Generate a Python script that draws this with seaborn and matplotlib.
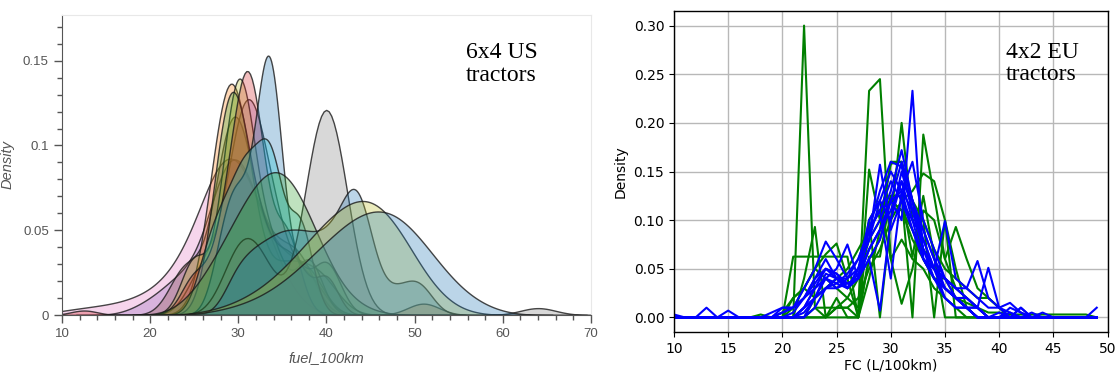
import numpy as np
import pandas as pd
import matplotlib.pyplot as plt
import seaborn as sns

# LEFT PANEL: 6x4 US tractors, fuel samples per truck (value, count)
us_fuel = [
    [11, 14.5, 18, 21, 24, 27, 29, 31, 33, 35],           # pink wide left tail
    [20, 23.5, 27.5, 29.5, 31.5, 35, 39],                  # purple
    [24, 28, 29.55, 31.1, 34, 37],                         # brown
    [26, 29.3, 30.9, 32.5, 34.5, 38],                      # purple/brown
    [27.5, 29.2, 31, 35, 38, 51],                          # orange (wheat)
    [25, 28.7, 30.1, 31.5, 34, 38],                        # olive
    [27.8, 29.3, 30.8, 33, 36, 40],                        # green
    [12.5, 25, 28, 29.7, 31.1, 32.4, 35.5],                # red
    [28, 29.5, 31, 32.5, 33.5, 34.5, 37, 40],              # tall blue
    [26.5, 28.5, 30.5, 32, 33.8, 37],                      # cyan
    [30, 32.5, 38.5, 40, 41.5, 64],                        # gray
    [26, 29, 32, 35, 38, 41, 44],                          # wide green
    [30, 32.5, 35, 37.5, 40, 41.5, 43.3, 45, 48, 50.5],    # blue 43
    [27, 30, 33, 36, 39, 42, 45, 48, 51, 54],              # olive 45
    [28, 31, 34, 37, 40, 43, 46, 49, 52, 55, 58],          # light blue 46
]
us_counts = [
    [10, 16, 24, 38, 90, 175, 200, 160, 80, 37],
    [3, 9, 18, 25, 18, 13, 12],
    [12, 16, 30, 16, 13, 13],
    [10, 15, 28, 17, 12, 8],
    [20, 36, 20, 10, 10, 3],
    [12, 17, 30, 17, 12, 12],
    [17, 30, 17, 12, 12, 12],
    [1, 8, 10, 17, 30, 17, 17],
    [8, 14, 10, 12, 30, 12, 7, 7],
    [10, 14, 18, 13, 26, 18],
    [15, 12, 20, 30, 19, 2],
    [6, 15, 25, 30, 19, 5, 1],
    [8, 10, 12, 12, 10, 6, 20, 6, 4, 6],
    [3, 10, 22, 42, 68, 90, 100, 76, 31, 6],
    [4, 10, 22, 41, 66, 88, 100, 88, 54, 23, 7],
]
us_bw = [2.5, 2.2, 1.8, 1.8, 1.8, 1.5, 1.6, 1.5, 1.3, 1.4, 2.0, 2.5, 1.6, 2.5, 2.5]
us_colors = ['#e377c2', '#9467bd', '#8c564b', '#9467bd', '#ff7f0e', '#bcbd22', '#2ca02c',
             '#d62728', '#1f77b4', '#17becf', '#7f7f7f', '#2ca02c', '#1f77b4', '#bcbd22', '#1f77b4']

# RIGHT PANEL: 4x2 EU tractors, histogram densities per 1 L/100km bin
fc_bins = list(range(10, 50))
green_start = [20, 20, 20, 20, 21, 23, 24, 20, 22, 17]
green_density = [
    [0, 0, .30, .01, 0, 0, 0, 0, .10, 0, .10, .20, .10, .10, 0, .10, 0],
    [0, .02, .03, .05, .04, .03, .02, .01, .233, .245, .06, .08, .06, .05, .03, .02, .01, 0],
    [0, .0625, .0625, .0625, .0625, .0625, .0625, 0, .0625, .0625, .125, .125, .0625, .125, .0625, 0],
    [0, 0, .04, .093, 0, .02, 0, 0, .06, .08, .125, .125, 0, .188, .125, .06, .03, .02, .01, 0],
    [0, 0, .02, .03, .04, .03, .04, .08, .10, .158, .16, .12, .06, .04, .04, .02, .01, 0],
    [0, 0, .01, .01, .02, .05, .07, .10, .12, .13, .148, .14, .10, .05, .01, 0],
    [0, .01, .02, .04, .10, .12, .06, .014, .05, .11, .10, .06, .093, .06, .03, .02, .01, 0],
    [0, .01, .03, .05, .065, .076, .04, 0, .152, .10, .12, .11, .08, .06, .04, .03, .02, .01, 0],
    [0, .01, .01, .01, .01, 0, .04, .09, .16, .16, .12, .10, .07, .05, .04, .03, .02, .02, .01, 0],
    [0, .003, 0, .005, .02, .03, .02, .03, .04, .05, .07, .09, .11, .12, .11, .09, .07, .05, .03,
     .02, .015, .01, .005, .005, .003, .003, .003, .003, .003, .003, .003, .003, 0],
]
blue_start = [12, 21, 19, 21, 22, 21, 21, 20, 22, 19, 21, 10]
blue_density = [
    [0, .01, 0, .007, 0, 0, 0, 0, .005, .01, .03, .05, .078, .06, .04, .05, .08, .157, .09, .12,
     .10, .06, .04, .02, .01, .01, 0],
    [0, .01, .03, .04, .03, .035, .04, .07, .09, .12, .10, .233, .06, .05, .03, .02, .01, .01, 0],
    [0, .01, .01, .02, .03, .04, .035, .03, .05, .08, .10, .13, .172, .12, .07, .04, .03, .02, .01, 0],
    [0, .01, .02, .045, .04, .035, .04, .06, .007, .10, .15, .11, .07, .05, .099, .04, .03, .02,
     .01, .01, .015, .005, 0],
    [0, .02, .03, .04, .03, .045, .07, .09, .11, .14, .10, .08, .05, .04, .03, .03, .058, .02, .01, .005, 0],
    [0, .01, .03, .05, .045, .035, .04, .09, .11, .14, .12, .09, .06, .05, .04, .03, .02, .01, .051,
     .01, 0, .01, 0],
    [0, .005, .02, .04, .05, .075, .04, .06, .08, .12, .16, .12, .09, .06, .03, .02, .02, .01, 0],
    [0, .005, .02, .04, .06, .04, .03, .05, .10, .12, .15, .13, .09, .06, .04, .03, .02, .01, 0, 0,
     0, .01, .005, 0],
    [0, .01, .03, .03, .04, .06, .09, .13, .16, .155, .11, .07, .05, .03, .02, .01, 0, 0, .005, 0,
     0, .005, 0],
    [0, .005, .01, .02, .035, .05, .04, .04, .05, .08, .12, .10, .14, .12, .08, .05, .02, .01, .01,
     0, 0, 0, 0, .01, 0, .005, 0, 0, 0, 0, .01],
    [0, .01, .02, .03, .035, .045, .06, .09, .11, .04, .13, .16, .10, .07, .04, .03, .02, .01, 0],
    [.003, 0, 0, 0, 0, 0, 0, 0, 0, .005, .01, .01, .02, .04, .05, .045, .03, .04, .07, .09, .12, .13,
     .11, .09, .06, .04, .02, .01, .01, 0, 0, .005, 0],
]

fig = plt.figure(figsize=(11.19, 3.76), dpi=100)
ax1 = fig.add_axes([0.0554, 0.1622, 0.4727, 0.798])
ax2 = fig.add_axes([0.6023, 0.117, 0.3875, 0.8537])

# left: overlapping filled KDEs
for vals, cnts, bw, col in zip(us_fuel, us_counts, us_bw, us_colors):
    vals = np.array(vals, dtype=float)
    cnts = np.array(cnts, dtype=float)
    spread = np.sqrt(np.cov(vals, aweights=cnts))  # so bw is in L/100km
    sns.kdeplot(x=vals, weights=cnts, bw_method=bw / spread, fill=True, color=col, alpha=0.3,
                edgecolor=(0.1, 0.1, 0.1, 0.8), linewidth=1.0, ax=ax1)

ax1.set_xlim(10, 70)
ax1.set_ylim(0, 0.177)
ax1.set_xticks(range(10, 71, 10))
ax1.set_xticks(range(10, 71, 2), minor=True)
ax1.set_yticks([0, 0.05, 0.1, 0.15])
ax1.set_yticklabels(['0', '0.05', '0.1', '0.15'])
ax1.set_yticks(np.arange(0, 0.171, 0.01), minor=True)
ax1.tick_params(which='major', length=6, width=1, color='#555555', labelcolor='#555555',
                labelsize=9.5, labelfontfamily='Liberation Sans')
ax1.tick_params(which='minor', length=3.5, width=1, color='#555555')
for s in ['left', 'bottom']:
    ax1.spines[s].set_color('#555555')
for s in ['top', 'right']:
    ax1.spines[s].set_color('#e8e8e8')
ax1.set_xlabel('fuel_100km', fontstyle='italic', color='#555555', fontsize=10.5,
               family='Liberation Sans', labelpad=8)
ax1.set_ylabel('Density', fontstyle='italic', color='#555555', fontsize=10.5,
               family='Liberation Sans', labelpad=6)
ax1.text(0.764, 0.91, '6x4 US\ntractors', transform=ax1.transAxes, ha='left', va='top',
         fontsize=17, family='Liberation Serif', linespacing=1.1)

# right: histogram lines per truck
rows = []
for i, (st, vals) in enumerate(zip(green_start, green_density)):
    full = [0.0] * len(fc_bins)
    full[st - 10: st - 10 + len(vals)] = vals
    for b, d in zip(fc_bins, full):
        rows.append({'fc': b, 'density': d, 'series': f'g{i}'})
for i, (st, vals) in enumerate(zip(blue_start, blue_density)):
    full = [0.0] * len(fc_bins)
    full[st - 10: st - 10 + len(vals)] = vals
    for b, d in zip(fc_bins, full):
        rows.append({'fc': b, 'density': d, 'series': f'b{i}'})
eu = pd.DataFrame(rows)
pal = {s: ('green' if s.startswith('g') else 'blue') for s in eu['series'].unique()}

sns.lineplot(data=eu, x='fc', y='density', hue='series', palette=pal, estimator=None,
             legend=False, linewidth=1.5, ax=ax2)
ax2.set_xlim(10, 50)
ax2.set_xticks(range(10, 51, 5))
ax2.set_yticks(np.arange(0, 0.31, 0.05))
ax2.yaxis.set_major_formatter(plt.FormatStrFormatter('%.2f'))
ax2.grid(True, color='#b8b8b8', linewidth=1.0)
ax2.set_axisbelow(True)
for s in ax2.spines.values():
    s.set_color('black')
    s.set_linewidth(1.0)
ax2.tick_params(labelsize=10, length=3.5)
ax2.set_xlabel('FC (L/100km)', fontsize=10, labelpad=2)
ax2.set_ylabel('Density', fontsize=10)
ax2.text(0.765, 0.905, '4x2 EU\ntractors', transform=ax2.transAxes, ha='left', va='top',
         fontsize=17, family='Liberation Serif', linespacing=1.1)

fig.savefig('out.png', dpi=100)
